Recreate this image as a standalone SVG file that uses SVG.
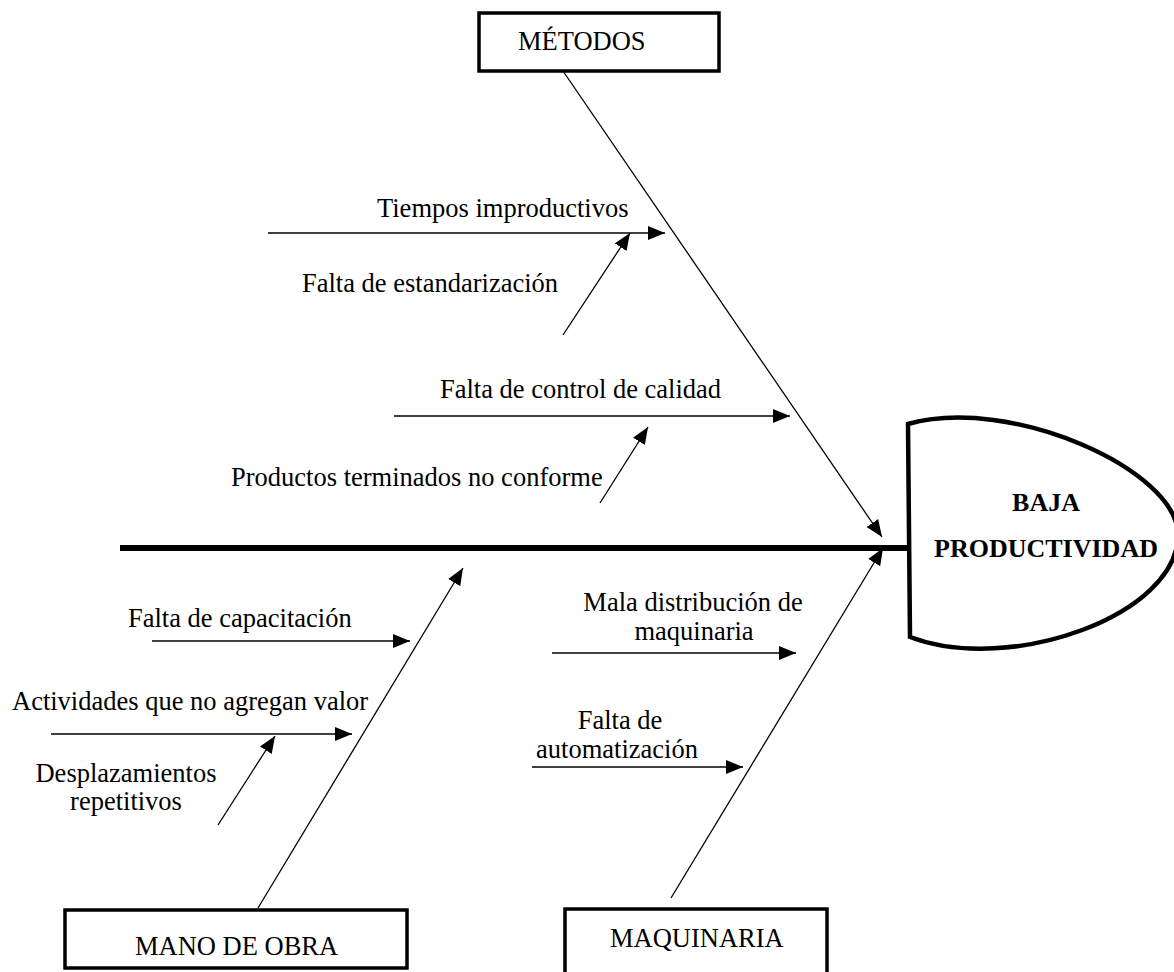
<svg xmlns="http://www.w3.org/2000/svg" width="1174" height="972" viewBox="0 0 1174 972">
<style>
text{font-family:"Liberation Serif","Times New Roman",serif;font-size:26.5px;fill:#000}
.box{fill:#fff;stroke:#000;stroke-width:3.5}
.ln{stroke:#000;stroke-width:1.3;fill:none}
.arr{stroke:#000;stroke-width:1.3;fill:none;marker-end:url(#ah)}
.bold{font-weight:bold;font-size:26px}
</style>
<defs>
<marker id="ah" markerUnits="userSpaceOnUse" markerWidth="18" markerHeight="15" refX="17" refY="7" orient="auto">
<path d="M0,0 L17,7 L0,14 Z" fill="#000"/>
</marker>
</defs>
<rect width="1174" height="972" fill="#fff"/>
<g id="connectors">
<line x1="120" y1="548" x2="908" y2="548" stroke="#000" stroke-width="6"/>
<line class="arr" x1="563" y1="71" x2="882" y2="537"/>
<line class="arr" x1="671" y1="898" x2="883" y2="548"/>
<line class="arr" x1="258" y1="908" x2="463" y2="568"/>
<line class="arr" x1="268" y1="233" x2="665" y2="233"/>
<line class="arr" x1="563" y1="335" x2="630" y2="233"/>
<line class="arr" x1="394" y1="416" x2="790" y2="416"/>
<line class="arr" x1="600" y1="503" x2="648" y2="427"/>
<line class="arr" x1="152" y1="641" x2="410" y2="641"/>
<line class="arr" x1="51" y1="734" x2="352" y2="734"/>
<line class="arr" x1="218" y1="825" x2="275" y2="736"/>
<line class="arr" x1="552" y1="653" x2="796" y2="653"/>
<line class="arr" x1="532" y1="767" x2="743" y2="767"/>
</g>
<g id="metodos">
<rect class="box" x="479" y="13" width="240" height="58"/>
<text x="518" y="50">MÉTODOS</text>
</g>
<g id="mano-de-obra">
<rect class="box" x="65" y="910" width="342" height="58"/>
<text x="135" y="955">MANO DE OBRA</text>
</g>
<g id="maquinaria">
<rect class="box" x="565" y="909" width="262" height="70"/>
<text x="610" y="947">MAQUINARIA</text>
</g>
<g id="efecto">
<path d="M908 424 C1010 395 1178 470 1178 535 C1178 615 1010 675 910 637 L908 424 Z" fill="#fff" stroke="#000" stroke-width="4.5" stroke-linejoin="miter"/>
<text class="bold" x="1046" y="511" text-anchor="middle">BAJA</text>
<text class="bold" x="1046" y="557" text-anchor="middle">PRODUCTIVIDAD</text>
</g>
<g id="causa-tiempos"><text x="377" y="217">Tiempos improductivos</text></g>
<g id="causa-estandarizacion"><text x="302" y="292">Falta de estandarización</text></g>
<g id="causa-control"><text x="440" y="398">Falta de control de calidad</text></g>
<g id="causa-productos"><text x="231" y="486">Productos terminados no conforme</text></g>
<g id="causa-capacitacion"><text x="128" y="627">Falta de capacitación</text></g>
<g id="causa-actividades"><text x="12" y="710">Actividades que no agregan valor</text></g>
<g id="causa-desplazamientos"><text x="126" y="782" text-anchor="middle">Desplazamientos</text><text x="126" y="810" text-anchor="middle">repetitivos</text></g>
<g id="causa-distribucion"><text x="693" y="611" text-anchor="middle">Mala distribución de</text><text x="694" y="640" text-anchor="middle">maquinaria</text></g>
<g id="causa-automatizacion"><text x="620" y="729" text-anchor="middle">Falta de</text><text x="617" y="758" text-anchor="middle">automatización</text></g>
</svg>
